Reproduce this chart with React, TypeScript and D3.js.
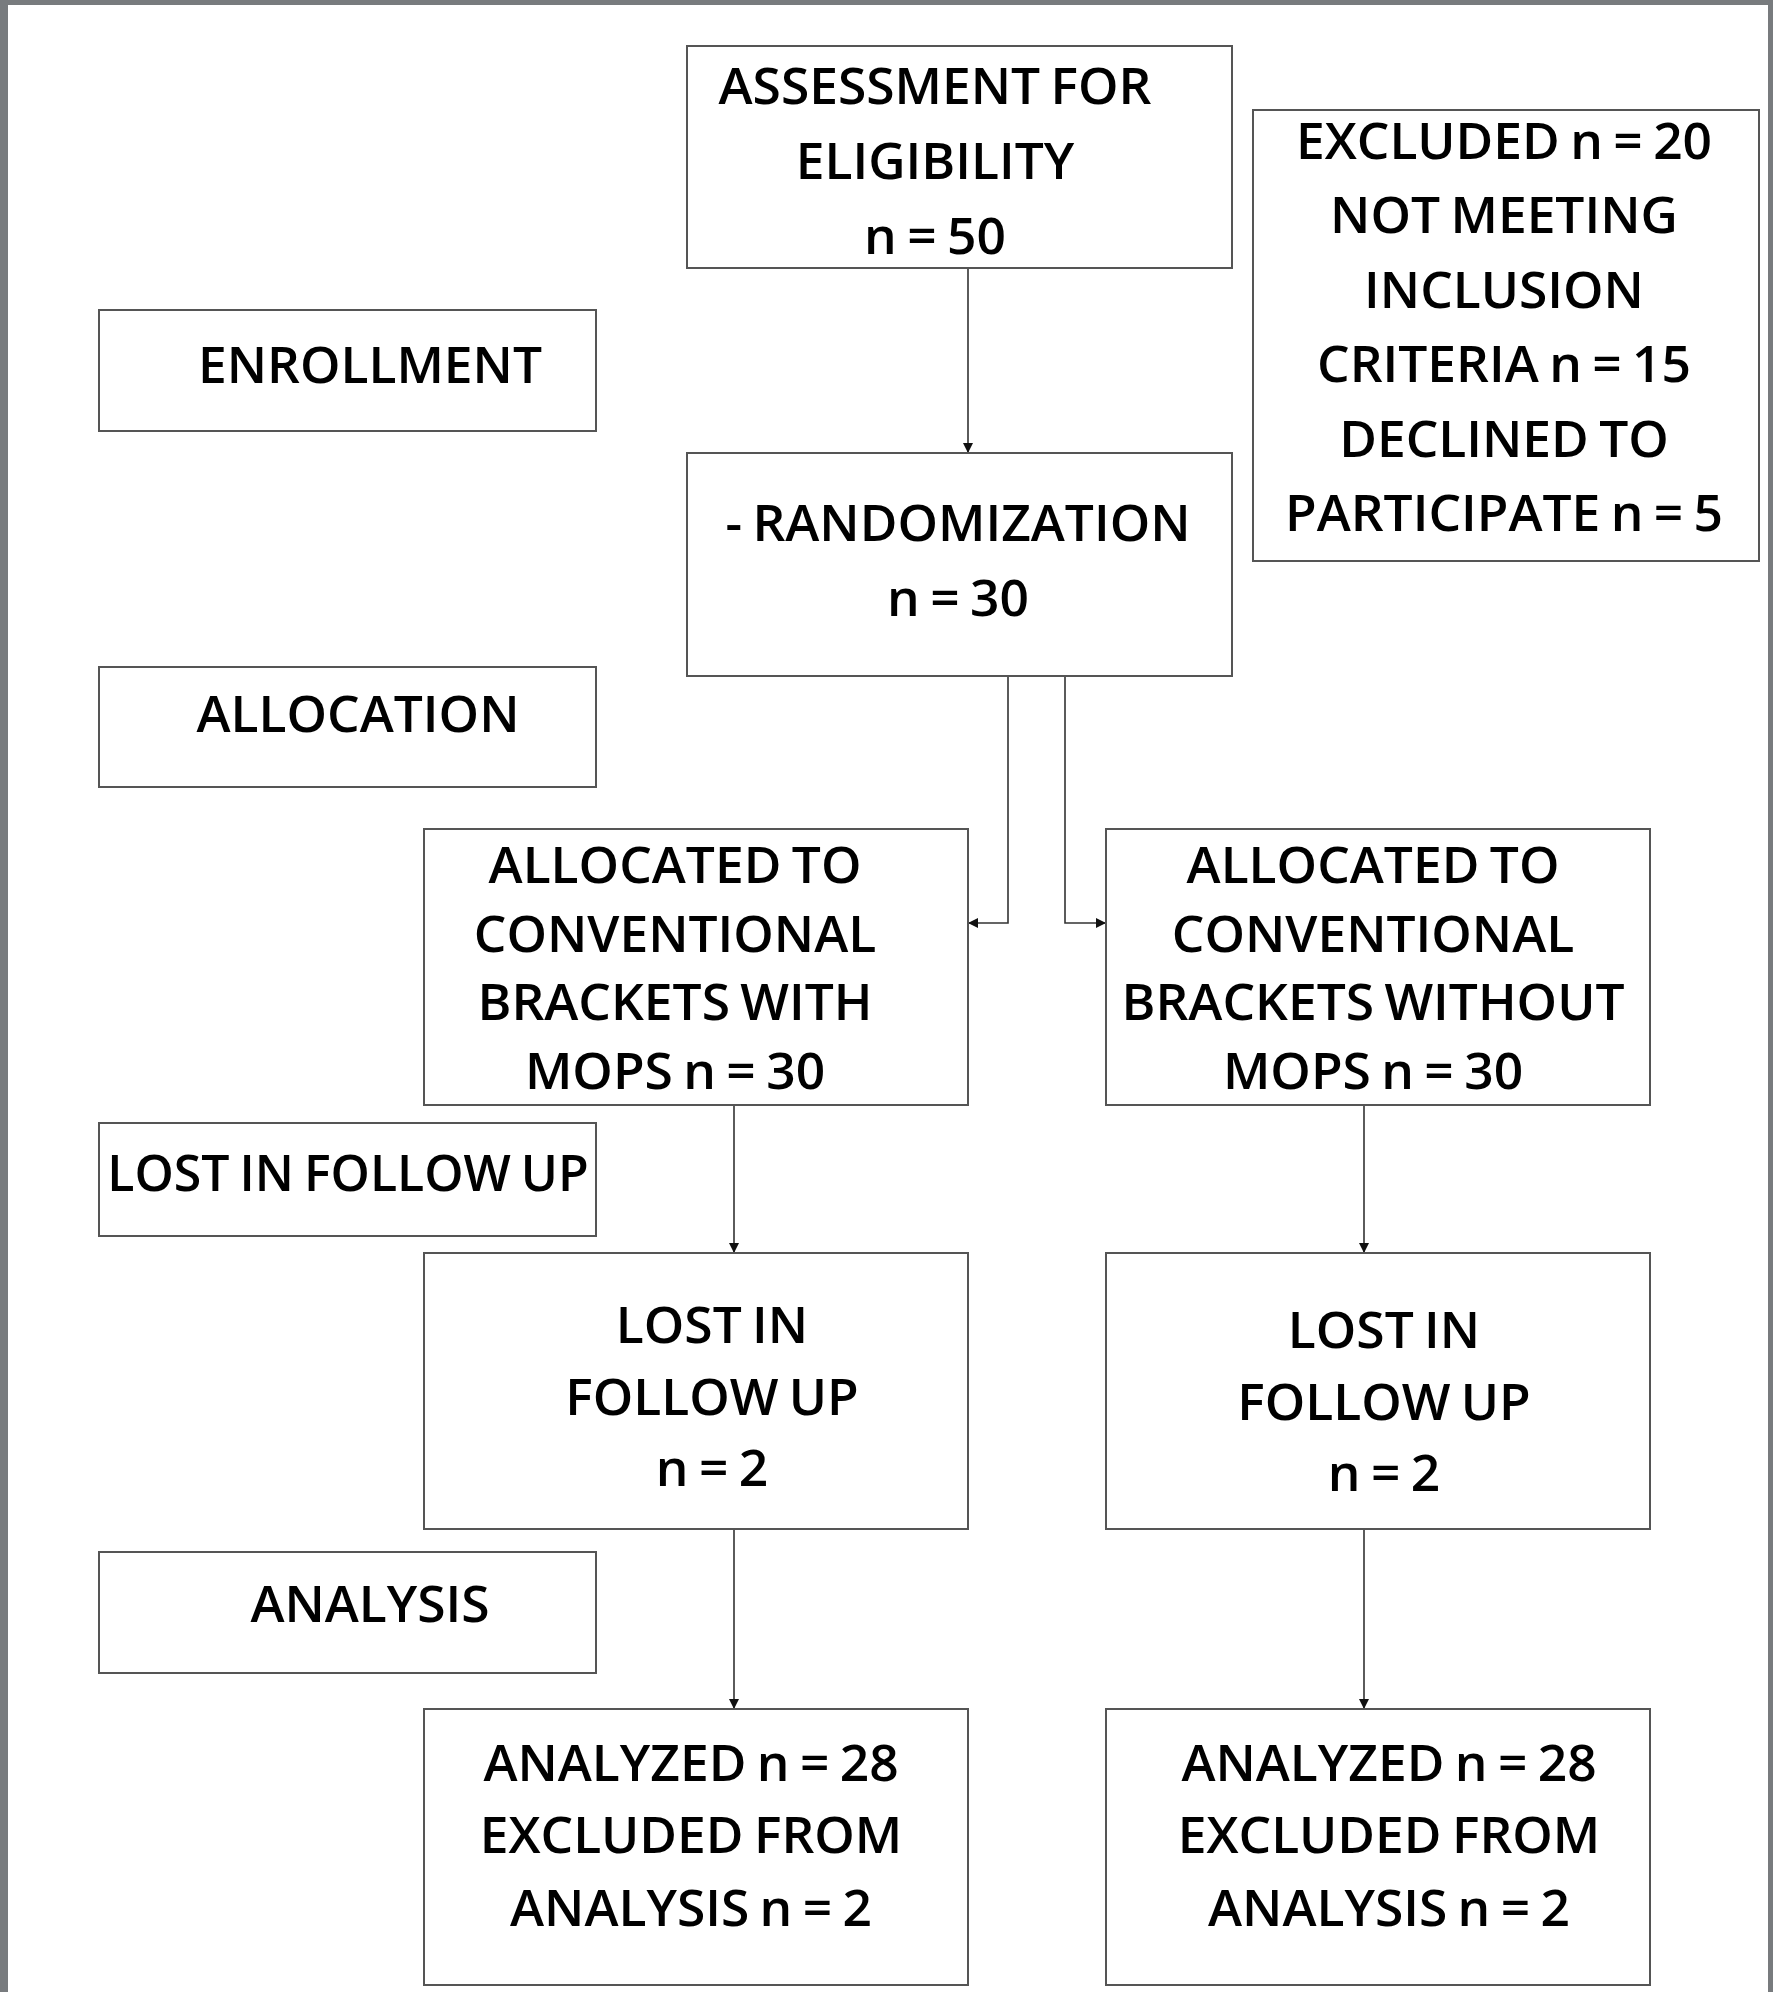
import React, { useEffect, useRef } from 'react';
import * as d3 from 'd3';

// flow stage labels (left column)
const stageLabels = ['ENROLLMENT', 'ALLOCATION', 'LOST IN FOLLOW UP', 'ANALYSIS'];

// counts
const assessedN = 50;
const excludedN = 20;
const notMeetingN = 15;
const declinedN = 5;
const randomizedN = 30;
const allocatedN = [30, 30];
const lostN = [2, 2];
const analyzedN = [28, 28];
const excludedAnalysisN = [2, 2];
const groupNames = ['WITH', 'WITHOUT'];

const W = 1773;
const H = 1992;
const FONT = '"Open Sans", "Noto Sans", sans-serif';

type Box = {
  id: string;
  x0: number; y0: number; x1: number; y1: number;
  tx: number; ty: number; dy: number;
  fs?: number;
  lines: string[];
};

const boxes: Box[] = [
  { id: 'assess', x0: 687, y0: 46, x1: 1232, y1: 268, tx: 935, ty: 86, dy: 75,
    lines: ['ASSESSMENT FOR', 'ELIGIBILITY', `n = ${assessedN}`] },
  { id: 'excluded', x0: 1253, y0: 110, x1: 1759, y1: 561, tx: 1504, ty: 141, dy: 74.4,
    lines: [`EXCLUDED n = ${excludedN}`, 'NOT MEETING', 'INCLUSION', `CRITERIA n = ${notMeetingN}`,
      'DECLINED TO', `PARTICIPATE n = ${declinedN}`] },
  { id: 'enroll', x0: 99, y0: 310, x1: 596, y1: 431, tx: 370, ty: 365, dy: 0, lines: [stageLabels[0]] },
  { id: 'random', x0: 687, y0: 453, x1: 1232, y1: 676, tx: 958, ty: 523, dy: 75,
    lines: ['- RANDOMIZATION', `n = ${randomizedN}`] },
  { id: 'alloc', x0: 99, y0: 667, x1: 596, y1: 787, tx: 358, ty: 714, dy: 0, lines: [stageLabels[1]] },
  { id: 'allocL', x0: 424, y0: 829, x1: 968, y1: 1105, tx: 675, ty: 865, dy: 68.6,
    lines: ['ALLOCATED TO', 'CONVENTIONAL', `BRACKETS ${groupNames[0]}`, `MOPS n = ${allocatedN[0]}`] },
  { id: 'allocR', x0: 1106, y0: 829, x1: 1650, y1: 1105, tx: 1373, ty: 865, dy: 68.6,
    lines: ['ALLOCATED TO', 'CONVENTIONAL', `BRACKETS ${groupNames[1]}`, `MOPS n = ${allocatedN[1]}`] },
  { id: 'lostLbl', x0: 99, y0: 1123, x1: 596, y1: 1236, tx: 348, ty: 1173, dy: 0, fs: 50,
    lines: [stageLabels[2]] },
  { id: 'lostL', x0: 424, y0: 1253, x1: 968, y1: 1529, tx: 712, ty: 1325, dy: 71.7,
    lines: ['LOST IN', 'FOLLOW UP', `n = ${lostN[0]}`] },
  { id: 'lostR', x0: 1106, y0: 1253, x1: 1650, y1: 1529, tx: 1384, ty: 1330, dy: 71.7,
    lines: ['LOST IN', 'FOLLOW UP', `n = ${lostN[1]}`] },
  { id: 'analysis', x0: 99, y0: 1552, x1: 596, y1: 1673, tx: 370, ty: 1604, dy: 0, lines: [stageLabels[3]] },
  { id: 'anaL', x0: 424, y0: 1709, x1: 968, y1: 1985, tx: 691, ty: 1763, dy: 72.4,
    lines: [`ANALYZED n = ${analyzedN[0]}`, 'EXCLUDED FROM', `ANALYSIS n = ${excludedAnalysisN[0]}`] },
  { id: 'anaR', x0: 1106, y0: 1709, x1: 1650, y1: 1985, tx: 1389, ty: 1763, dy: 72.4,
    lines: [`ANALYZED n = ${analyzedN[1]}`, 'EXCLUDED FROM', `ANALYSIS n = ${excludedAnalysisN[1]}`] },
];

// connector polylines
const arrows: [number, number][][] = [
  [[968, 268], [968, 453]],
  [[1008, 676], [1008, 923], [968, 923]],
  [[1065, 676], [1065, 923], [1106, 923]],
  [[734, 1105], [734, 1253]],
  [[1364, 1105], [1364, 1253]],
  [[734, 1529], [734, 1709]],
  [[1364, 1529], [1364, 1709]],
];

export default function App() {
  const ref = useRef<SVGSVGElement>(null);

  useEffect(() => {
    const svg = d3.select(ref.current);
    svg.selectAll('*').remove();

    svg.append('rect').attr('width', W).attr('height', H).attr('fill', '#ffffff');

    // grey page frame
    svg.append('rect').attr('x', 0).attr('y', 0).attr('width', 8).attr('height', H).attr('fill', '#787b7e');
    svg.append('rect').attr('x', 0).attr('y', 0).attr('width', W).attr('height', 5).attr('fill', '#787b7e');
    svg.append('rect').attr('x', 1768).attr('y', 0).attr('width', 5).attr('height', H).attr('fill', '#787b7e');

    const defs = svg.append('defs');
    defs.append('marker')
      .attr('id', 'arrowhead')
      .attr('viewBox', '0 0 10 10')
      .attr('refX', 10)
      .attr('refY', 5)
      .attr('markerWidth', 13)
      .attr('markerHeight', 10)
      .attr('markerUnits', 'userSpaceOnUse')
      .attr('orient', 'auto')
      .append('path')
      .attr('d', 'M0,0 L10,5 L0,10 Z')
      .attr('fill', '#111');

    const line = d3.line<[number, number]>().x(d => d[0]).y(d => d[1]);

    svg.append('g').selectAll('path')
      .data(arrows)
      .enter().append('path')
      .attr('d', d => line(d))
      .attr('fill', 'none')
      .attr('stroke', '#333')
      .attr('stroke-width', 1.6)
      .attr('marker-end', 'url(#arrowhead)');

    const g = svg.append('g').selectAll('g')
      .data(boxes)
      .enter().append('g');

    g.append('rect')
      .attr('x', d => d.x0)
      .attr('y', d => d.y0)
      .attr('width', d => d.x1 - d.x0)
      .attr('height', d => d.y1 - d.y0)
      .attr('fill', 'none')
      .attr('stroke', '#555')
      .attr('stroke-width', 2);

    g.each(function (d) {
      d3.select(this).selectAll('text.lbl')
        .data(d.lines)
        .enter().append('text')
        .attr('class', 'lbl')
        .attr('x', d.tx)
        .attr('y', (_, i) => d.ty + i * d.dy + 18)
        .attr('text-anchor', 'middle')
        .style('font-family', FONT)
        .style('font-weight', 600)
        .style('font-size', `${d.fs || 51.5}px`)
        .style('word-spacing', '-3px')
        .style('fill', '#000')
        .text(t => t);
    });
  }, []);

  return (
    <svg
      ref={ref}
      width={W}
      height={H}
      style={{ position: 'absolute', left: 0, top: 0, display: 'block' }}
    />
  );
}
